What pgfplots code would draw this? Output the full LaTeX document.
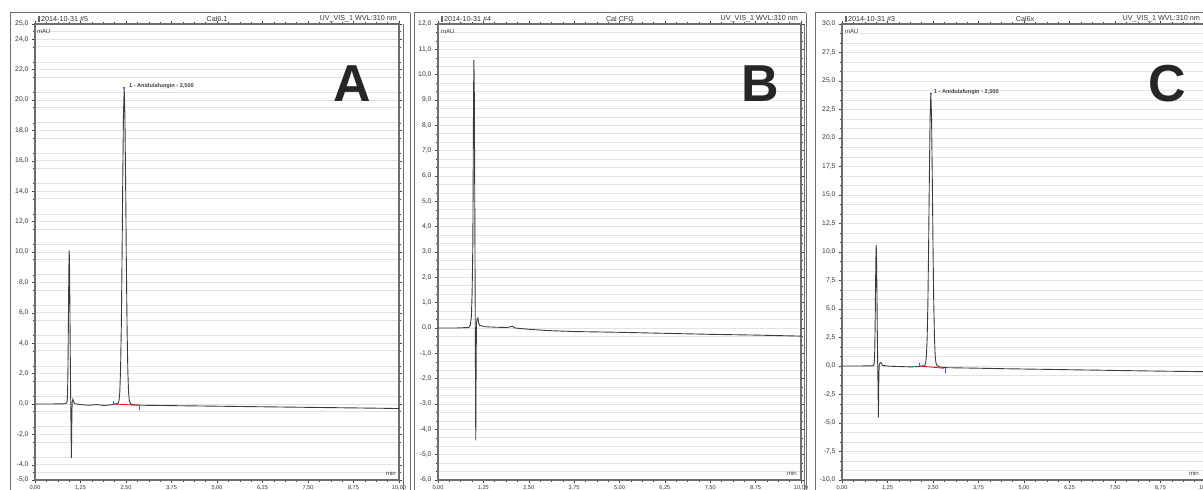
\documentclass[border=0pt]{standalone}
\usepackage{pgfplots}
\pgfplotsset{compat=1.18}
\usepackage{fontspec}
\setmainfont{Liberation Sans}
\setsansfont{Liberation Sans}
\definecolor{trace}{RGB}{60,60,60}
\definecolor{gridc}{RGB}{226,226,226}
\definecolor{framec}{RGB}{110,110,110}
\definecolor{blueM}{RGB}{70,70,220}
\pgfplotsset{
  chrom/.style={
    scale only axis, width=364pt, height=456pt, anchor=south west,
    xmin=0, xmax=10, xtick={0,1.25,...,10}, minor x tick num=3,
    axis line style={draw=framec, line width=1.3pt},
    tick style={draw=black!75, line width=0.5pt},
    major tick length=3pt, minor tick length=2pt,
    tick align=outside,
    ymajorgrids, yminorgrids,
    major grid style={draw=gridc, line width=0.6pt},
    minor grid style={draw=gridc, line width=0.6pt},
    /pgf/number format/assume math mode=true,
    y tick label style={font=\fontsize{6.8}{7}\selectfont, text=black!80, /pgf/number format/.cd, fixed, fixed zerofill, precision=1, use comma},
    x tick label style={font=\fontsize{5.6}{6}\selectfont, text=black!80, yshift=1.2pt, /pgf/number format/.cd, fixed, fixed zerofill, precision=2, use comma},
    scaled y ticks=false, scaled x ticks=false,
    clip=false,
  },
  trc/.style={draw=trace, line width=0.9pt, no marks},
  bmk/.style={only marks, mark=|, mark size=2.2pt, mark options={draw=blueM, line width=0.8pt}},
}
\begin{document}
\begin{tikzpicture}[x=1pt,y=1pt]
% ---------- Panel A ----------
\begin{axis}[chrom, at={(35pt,10pt)}, ymin=-5, ymax=25,
  ytick={-5,-4,-2,0,2,4,6,8,10,12,14,16,18,20,22,24,25},
  minor ytick={-4.5,-3.5,...,24.5}]
\addplot[trc] coordinates {(0,0) (0.4,0.0) (0.8,0.01) (0.86,0.05) (0.88,0.15) (0.89,0.44) (0.90,1.4) (0.91,3.3) (0.92,6.1) (0.93,8.9) (0.94,10.1) (0.95,8.9) (0.96,6.1) (0.97,3.0) (0.98,0.5) (0.99,-1.6) (1.0,-3.55) (1.01,-1.4) (1.02,0.1) (1.04,0.32) (1.06,0.15) (1.09,0.02) (1.3,-0.05) (1.5,-0.08) (1.7,-0.04) (1.9,-0.1) (2.1,-0.05) (2.2,0.0) (2.28,0.03) (2.31,0.25) (2.33,0.8) (2.35,2.2) (2.37,4.9) (2.39,9.2) (2.41,14.5) (2.43,19.0) (2.45,20.8) (2.47,19.0) (2.49,14.5) (2.51,9.2) (2.53,4.9) (2.55,2.2) (2.57,0.8) (2.59,0.25) (2.62,0.03) (2.7,-0.05) (2.9,-0.08) (3.5,-0.1) (4.5,-0.13) (5.5,-0.16) (6.5,-0.19) (7.5,-0.22) (8.5,-0.25) (9.5,-0.28) (10,-0.3)};
\addplot[draw=red, line width=0.8pt, no marks] coordinates {(2.16,0.0) (2.84,-0.08)};
\addplot[bmk] coordinates {(2.16,0.05) (2.86,-0.25)};
\addplot[only marks, mark=*, mark size=0.8pt, mark options={fill=blueM, draw=blueM}] coordinates {(2.45,20.8)};
\node[anchor=west, font=\fontsize{5.6}{6}\selectfont\bfseries, text=black!75, inner sep=0pt] at (axis cs:2.58,20.9) {1 - Anidulafungin - 2,500};
\end{axis}
% ---------- Panel B ----------
\begin{axis}[chrom, at={(438pt,10pt)}, width=363pt, ymin=-6, ymax=12,
  ytick={-6,-5,...,12}, minor y tick num=2]
\addplot[trc] coordinates {(0,0) (0.5,0) (0.85,0.02) (0.89,0.12) (0.92,0.45) (0.94,1.4) (0.96,3.3) (0.97,6.4) (0.98,9.3) (0.99,10.57) (1.00,9.3) (1.01,6.0) (1.02,2.5) (1.03,-1.0) (1.04,-4.44) (1.05,-1.5) (1.06,0.2) (1.08,0.35) (1.10,0.4) (1.12,0.2) (1.15,0.1) (1.3,0.05) (1.6,0.03) (1.9,0.02) (2.0,0.05) (2.05,0.07) (2.12,0.0) (2.5,-0.05) (3,-0.1) (3.75,-0.14) (5,-0.17) (6.25,-0.21) (7.5,-0.25) (8.75,-0.28) (10,-0.32)};
\end{axis}
% ---------- Panel C ----------
\begin{axis}[chrom, at={(842pt,10pt)}, ymin=-10, ymax=30,
  ytick={-10,-7.5,...,30}, minor y tick num=2]
\addplot[trc] coordinates {(0,0) (0.4,0) (0.8,0.01) (0.86,0.05) (0.88,0.15) (0.89,0.47) (0.90,1.4) (0.91,3.4) (0.92,6.4) (0.93,9.3) (0.94,10.6) (0.95,9.3) (0.96,6.4) (0.97,3.0) (0.98,0.3) (0.99,-1.8) (1.0,-4.5) (1.01,-1.6) (1.02,0.05) (1.05,0.3) (1.08,0.28) (1.11,0.05) (1.3,-0.02) (1.6,-0.05) (1.9,-0.08) (2.1,-0.05) (2.2,0.0) (2.27,0.03) (2.30,0.28) (2.32,0.92) (2.34,2.5) (2.36,5.6) (2.38,10.6) (2.40,16.6) (2.42,21.8) (2.44,23.9) (2.46,21.8) (2.48,16.6) (2.50,10.6) (2.52,5.6) (2.54,2.5) (2.56,0.92) (2.58,0.28) (2.61,0.03) (2.7,-0.1) (2.9,-0.15) (3.5,-0.18) (4.5,-0.24) (5.5,-0.29) (6.5,-0.34) (7.5,-0.39) (8.5,-0.44) (9.5,-0.48) (10,-0.5)};
\addplot[draw=red, line width=0.8pt, no marks] coordinates {(2.14,0.0) (2.80,-0.2)};
\addplot[bmk] coordinates {(2.13,0.1) (2.83,-0.4)};
\addplot[only marks, mark=*, mark size=0.8pt, mark options={fill=blueM, draw=blueM}] coordinates {(2.44,23.9)};
\node[anchor=west, font=\fontsize{5.6}{6}\selectfont\bfseries, text=black!75, inner sep=0pt] at (axis cs:2.52,24.0) {1 - Anidulafungin - 2,500};
\end{axis}
% ---------- frames and headers ----------
\foreach \L/\R in {10/410, 414/806, 815/1210} {
  \draw[framec, line width=1pt] (\L,-5) -- (\L,477) -- (\R,477);
}
\draw[framec, line width=1pt] (410,477) -- (410,-5);
\draw[framec, line width=1pt] (806,477) -- (806,-5);
\draw[framec, line width=0.8pt] (403,466) -- (403,-5);
\draw[framec, line width=0.8pt] (804,466) -- (804,-5);
\foreach \X in {38,441,845} {
  \fill[black!60] (\X,468) rectangle (\X+1.5,474);
}
\begin{scope}[font=\fontsize{7.2}{8}\selectfont, text=black!80, inner sep=0pt]
\node[anchor=west] at (41,471) {2014-10-31 \#5};
\node at (217,471) {Cal6.1};
\node[anchor=east] at (397,471) {UV\_VIS\_1 WVL:310 nm};
\node[anchor=west] at (444,471) {2014-10-31 \#4};
\node at (620,471) {Cal CFG};
\node[anchor=east] at (798,471) {UV\_VIS\_1 WVL:310 nm};
\node[anchor=west] at (848,471) {2014-10-31 \#3};
\node at (1025,471) {Cal6x};
\node[anchor=east] at (1200,471) {UV\_VIS\_1 WVL:310 nm};
\end{scope}
\begin{scope}[font=\fontsize{6}{7}\selectfont, text=black!80, inner sep=0pt]
\node[anchor=west] at (37,459) {mAU};
\node[anchor=west] at (441,459) {mAU};
\node[anchor=west] at (845,459) {mAU};
\node[anchor=east] at (396,17) {min};
\node[anchor=east] at (797,17) {min};
\node[anchor=east] at (1199,17) {min};
\end{scope}
\begin{scope}[font=\fontsize{52}{52}\selectfont\bfseries, text=black!85]
\node at (352,406) {A};
\node at (760,406) {B};
\node at (1167,406) {C};
\end{scope}
\pgfresetboundingbox
\useasboundingbox (0,0) rectangle (1203,490);
\end{tikzpicture}
\end{document}
